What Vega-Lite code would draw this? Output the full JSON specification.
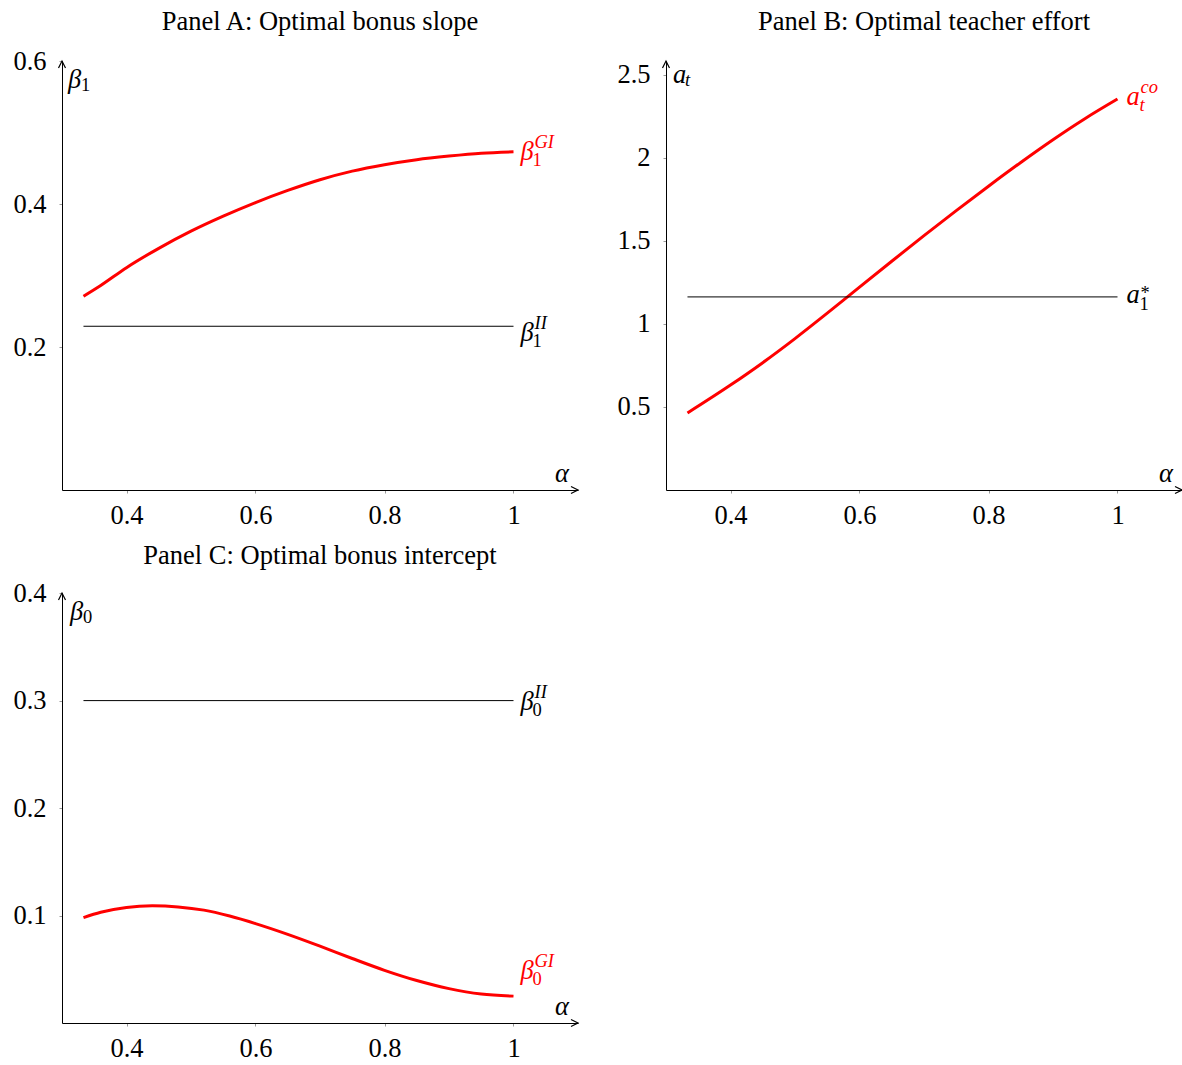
{
  "$schema": "https://vega.github.io/schema/vega-lite/v6.json",
  "background": "white",
  "padding": {"left": 12, "top": 8, "right": 0, "bottom": 0},
  "config": {
    "font": "Liberation Serif",
    "view": {"stroke": null},
    "axis": {"title": null, "grid": false, "domainColor": "#000000", "domainWidth": 1, "tickColor": "#999999", "tickSize": 3, "labelFont": "Liberation Serif", "labelFontSize": 26.5, "labelColor": "#000000"},
    "axisX": {"labelPadding": 9},
    "axisY": {"labelPadding": 13},
    "title": {"font": "Liberation Serif", "fontSize": 26.5, "fontWeight": "normal", "color": "#000000", "frame": "group", "anchor": "middle", "offset": 13}
  },
  "resolve": {"scale": {"color": "independent", "shape": "independent"}},
  "spacing": 13,
  "vconcat": [
    {
      "resolve": {"scale": {"color": "independent", "shape": "independent"}},
      "spacing": 35,
      "hconcat": [
        {
          "title": {"text": "Panel A: Optimal bonus slope", "offset": 13},
          "width": 516, "height": 429,
          "encoding": {
            "x": {"field": "alpha", "type": "quantitative", "scale": {"domain": [0.3, 1.1], "nice": false, "zero": false}, "axis": {"values": [0.4, 0.6, 0.8, 1], "format": "~g"}},
            "y": {"field": "val", "type": "quantitative", "scale": {"domain": [0, 0.6], "nice": false, "zero": false}, "axis": {"values": [0.2, 0.4, 0.6], "format": "~g"}}
          },
          "layer": [
            {"data": {"values": [
              {"alpha": 0.3333, "val": 0.271}, {"alpha": 0.36, "val": 0.286}, {"alpha": 0.4, "val": 0.311},
              {"alpha": 0.45, "val": 0.338}, {"alpha": 0.5, "val": 0.362}, {"alpha": 0.55, "val": 0.383},
              {"alpha": 0.6, "val": 0.402}, {"alpha": 0.65, "val": 0.419}, {"alpha": 0.7, "val": 0.434},
              {"alpha": 0.75, "val": 0.446}, {"alpha": 0.8, "val": 0.455}, {"alpha": 0.85, "val": 0.462},
              {"alpha": 0.9, "val": 0.467}, {"alpha": 0.95, "val": 0.471}, {"alpha": 1.0, "val": 0.473}]},
             "mark": {"type": "line", "color": "#ff0000", "strokeWidth": 3, "interpolate": "monotone"}},
            {"data": {"values": [{"alpha": 0.3333, "val": 0.229}, {"alpha": 1.0, "val": 0.229}]},
             "mark": {"type": "line", "color": "#000000", "strokeWidth": 1}},
            {"data": {"values": [{"alpha": 0.3, "val": 0.6, "dir": "up"}, {"alpha": 1.1, "val": 0, "dir": "right"}]},
             "mark": {"type": "point", "filled": false, "color": "#000000", "strokeWidth": 1.2, "size": 49, "opacity": 1},
             "encoding": {"shape": {"field": "dir", "type": "nominal", "scale": {"domain": ["up", "right"], "range": ["M-1,2L0,0L1,2", "M-2,-1L0,0L-2,1"]}, "legend": null}}},
            {"data": {"values": [
              {"alpha": 1.0, "val": 0.473, "series": "GI", "main": "β", "sub": "1", "sup": "GI"},
              {"alpha": 1.0, "val": 0.220, "series": "II", "main": "β", "sub": "1", "sup": "II"}]},
             "encoding": {"color": {"field": "series", "type": "nominal", "scale": {"domain": ["GI", "II"], "range": ["#ff0000", "#000000"]}, "legend": null}},
             "layer": [
               {"mark": {"type": "text", "align": "left", "baseline": "middle", "dx": 7, "fontSize": 26.5, "fontStyle": "italic"}, "encoding": {"text": {"field": "main"}}},
               {"mark": {"type": "text", "align": "left", "baseline": "alphabetic", "dx": 19, "dy": 14, "fontSize": 18.5}, "encoding": {"text": {"field": "sub"}}},
               {"mark": {"type": "text", "align": "left", "baseline": "alphabetic", "dx": 21, "dy": -4, "fontSize": 18.5, "fontStyle": "italic"}, "encoding": {"text": {"field": "sup"}}}
             ]},
            {"data": {"values": [{"alpha": 0.3, "val": 0.6, "main": "β", "sub": "1"}]},
             "layer": [
               {"mark": {"type": "text", "align": "left", "baseline": "middle", "dx": 6, "dy": 19, "fontSize": 26.5, "fontStyle": "italic", "color": "#000000"}, "encoding": {"text": {"field": "main"}}},
               {"mark": {"type": "text", "align": "left", "baseline": "alphabetic", "dx": 19, "dy": 30, "fontSize": 18.5, "color": "#000000"}, "encoding": {"text": {"field": "sub"}}}
             ]},
            {"data": {"values": [{"alpha": 1.1, "val": 0, "main": "α"}]},
             "mark": {"type": "text", "align": "center", "baseline": "middle", "dx": -16, "dy": -16, "fontSize": 26.5, "fontStyle": "italic", "color": "#000000"},
             "encoding": {"text": {"field": "main"}}}
          ]
        },
        {
          "title": {"text": "Panel B: Optimal teacher effort", "offset": 23},
          "width": 516, "height": 429,
          "encoding": {
            "x": {"field": "alpha", "type": "quantitative", "scale": {"domain": [0.3, 1.1], "nice": false, "zero": false}, "axis": {"values": [0.4, 0.6, 0.8, 1], "format": "~g"}},
            "y": {"field": "val", "type": "quantitative", "scale": {"domain": [0, 2.584], "nice": false, "zero": false}, "axis": {"values": [0.5, 1, 1.5, 2, 2.5], "format": "~g"}}
          },
          "layer": [
            {"data": {"values": [
              {"alpha": 0.3333, "val": 0.464}, {"alpha": 0.4, "val": 0.632}, {"alpha": 0.45, "val": 0.767},
              {"alpha": 0.5, "val": 0.912}, {"alpha": 0.55, "val": 1.065}, {"alpha": 0.6, "val": 1.222},
              {"alpha": 0.65, "val": 1.378}, {"alpha": 0.7, "val": 1.532}, {"alpha": 0.75, "val": 1.683},
              {"alpha": 0.8, "val": 1.83}, {"alpha": 0.85, "val": 1.973}, {"alpha": 0.9, "val": 2.11},
              {"alpha": 0.95, "val": 2.238}, {"alpha": 1.0, "val": 2.355}]},
             "mark": {"type": "line", "color": "#ff0000", "strokeWidth": 3, "interpolate": "monotone"}},
            {"data": {"values": [{"alpha": 0.3333, "val": 1.163}, {"alpha": 1.0, "val": 1.163}]},
             "mark": {"type": "line", "color": "#000000", "strokeWidth": 1}},
            {"data": {"values": [{"alpha": 0.3, "val": 2.584, "dir": "up"}, {"alpha": 1.1, "val": 0, "dir": "right"}]},
             "mark": {"type": "point", "filled": false, "color": "#000000", "strokeWidth": 1.2, "size": 49, "opacity": 1},
             "encoding": {"shape": {"field": "dir", "type": "nominal", "scale": {"domain": ["up", "right"], "range": ["M-1,2L0,0L1,2", "M-2,-1L0,0L-2,1"]}, "legend": null}}},
            {"data": {"values": [
              {"alpha": 1.0, "val": 2.367, "series": "co", "main": "a", "sub": "t", "sup": "co"},
              {"alpha": 1.0, "val": 1.175, "series": "star", "main": "a", "sub": "1", "sup": "*"}]},
             "encoding": {"color": {"field": "series", "type": "nominal", "scale": {"domain": ["co", "star"], "range": ["#ff0000", "#000000"]}, "legend": null}},
             "layer": [
               {"mark": {"type": "text", "align": "left", "baseline": "middle", "dx": 9, "fontSize": 26.5, "fontStyle": "italic"}, "encoding": {"text": {"field": "main"}}},
               {"transform": [{"filter": "datum.series == 'co'"}],
                "mark": {"type": "text", "align": "left", "baseline": "alphabetic", "dx": 22, "dy": 14, "fontSize": 18.5, "fontStyle": "italic"}, "encoding": {"text": {"field": "sub"}}},
               {"transform": [{"filter": "datum.series == 'star'"}],
                "mark": {"type": "text", "align": "left", "baseline": "alphabetic", "dx": 22, "dy": 15, "fontSize": 18.5}, "encoding": {"text": {"field": "sub"}}},
               {"transform": [{"filter": "datum.series == 'co'"}],
                "mark": {"type": "text", "align": "left", "baseline": "alphabetic", "dx": 23, "dy": -4, "fontSize": 18.5, "fontStyle": "italic"}, "encoding": {"text": {"field": "sup"}}},
               {"transform": [{"filter": "datum.series == 'star'"}],
                "mark": {"type": "text", "align": "left", "baseline": "alphabetic", "dx": 23, "dy": 4, "fontSize": 18.5}, "encoding": {"text": {"field": "sup"}}}
             ]},
            {"data": {"values": [{"alpha": 0.3, "val": 2.584, "main": "a", "sub": "t"}]},
             "layer": [
               {"mark": {"type": "text", "align": "left", "baseline": "middle", "dx": 7, "dy": 14, "fontSize": 26.5, "fontStyle": "italic", "color": "#000000"}, "encoding": {"text": {"field": "main"}}},
               {"mark": {"type": "text", "align": "left", "baseline": "alphabetic", "dx": 19, "dy": 25, "fontSize": 18.5, "fontStyle": "italic", "color": "#000000"}, "encoding": {"text": {"field": "sub"}}}
             ]},
            {"data": {"values": [{"alpha": 1.1, "val": 0, "main": "α"}]},
             "mark": {"type": "text", "align": "center", "baseline": "middle", "dx": -16, "dy": -16, "fontSize": 26.5, "fontStyle": "italic", "color": "#000000"},
             "encoding": {"text": {"field": "main"}}}
          ]
        }
      ]
    },
    {
      "title": {"text": "Panel C: Optimal bonus intercept", "offset": 11},
      "width": 516, "height": 430,
      "encoding": {
        "x": {"field": "alpha", "type": "quantitative", "scale": {"domain": [0.3, 1.1], "nice": false, "zero": false}, "axis": {"values": [0.4, 0.6, 0.8, 1], "format": "~g"}},
        "y": {"field": "val", "type": "quantitative", "scale": {"domain": [0, 0.4], "nice": false, "zero": false}, "axis": {"values": [0.1, 0.2, 0.3, 0.4], "format": "~g"}}
      },
      "layer": [
        {"data": {"values": [
          {"alpha": 0.3333, "val": 0.098}, {"alpha": 0.36, "val": 0.103}, {"alpha": 0.4, "val": 0.1075},
          {"alpha": 0.44, "val": 0.109}, {"alpha": 0.48, "val": 0.108}, {"alpha": 0.52, "val": 0.105},
          {"alpha": 0.56, "val": 0.0995}, {"alpha": 0.6, "val": 0.0925}, {"alpha": 0.65, "val": 0.0825},
          {"alpha": 0.7, "val": 0.0715}, {"alpha": 0.75, "val": 0.06}, {"alpha": 0.8, "val": 0.049},
          {"alpha": 0.85, "val": 0.0395}, {"alpha": 0.9, "val": 0.032}, {"alpha": 0.95, "val": 0.027},
          {"alpha": 1.0, "val": 0.025}]},
         "mark": {"type": "line", "color": "#ff0000", "strokeWidth": 3, "interpolate": "monotone"}},
        {"data": {"values": [{"alpha": 0.3333, "val": 0.2999}, {"alpha": 1.0, "val": 0.2999}]},
         "mark": {"type": "line", "color": "#000000", "strokeWidth": 1}},
        {"data": {"values": [{"alpha": 0.3, "val": 0.4, "dir": "up"}, {"alpha": 1.1, "val": 0, "dir": "right"}]},
         "mark": {"type": "point", "filled": false, "color": "#000000", "strokeWidth": 1.2, "size": 49, "opacity": 1},
         "encoding": {"shape": {"field": "dir", "type": "nominal", "scale": {"domain": ["up", "right"], "range": ["M-1,2L0,0L1,2", "M-2,-1L0,0L-2,1"]}, "legend": null}}},
        {"data": {"values": [
          {"alpha": 1.0, "val": 0.299, "series": "II", "main": "β", "sub": "0", "sup": "II"},
          {"alpha": 1.0, "val": 0.0483, "series": "GI", "main": "β", "sub": "0", "sup": "GI"}]},
         "encoding": {"color": {"field": "series", "type": "nominal", "scale": {"domain": ["GI", "II"], "range": ["#ff0000", "#000000"]}, "legend": null}},
         "layer": [
           {"mark": {"type": "text", "align": "left", "baseline": "middle", "dx": 7, "fontSize": 26.5, "fontStyle": "italic"}, "encoding": {"text": {"field": "main"}}},
           {"mark": {"type": "text", "align": "left", "baseline": "alphabetic", "dx": 19, "dy": 14, "fontSize": 18.5}, "encoding": {"text": {"field": "sub"}}},
           {"mark": {"type": "text", "align": "left", "baseline": "alphabetic", "dx": 21, "dy": -4, "fontSize": 18.5, "fontStyle": "italic"}, "encoding": {"text": {"field": "sup"}}}
         ]},
        {"data": {"values": [{"alpha": 0.3, "val": 0.4, "main": "β", "sub": "0"}]},
         "layer": [
           {"mark": {"type": "text", "align": "left", "baseline": "middle", "dx": 8, "dy": 19, "fontSize": 26.5, "fontStyle": "italic", "color": "#000000"}, "encoding": {"text": {"field": "main"}}},
           {"mark": {"type": "text", "align": "left", "baseline": "alphabetic", "dx": 21, "dy": 30, "fontSize": 18.5, "color": "#000000"}, "encoding": {"text": {"field": "sub"}}}
         ]},
        {"data": {"values": [{"alpha": 1.1, "val": 0, "main": "α"}]},
         "mark": {"type": "text", "align": "center", "baseline": "middle", "dx": -16, "dy": -16, "fontSize": 26.5, "fontStyle": "italic", "color": "#000000"},
         "encoding": {"text": {"field": "main"}}}
      ]
    }
  ]
}
